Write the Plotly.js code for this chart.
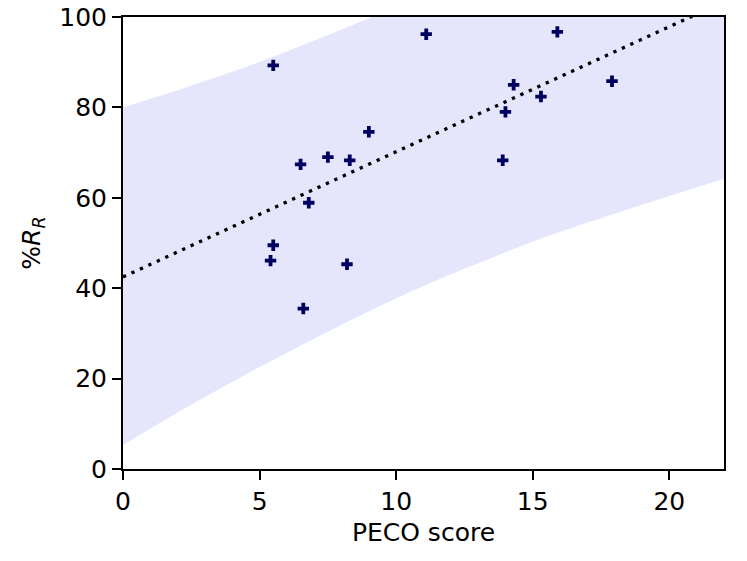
<!DOCTYPE html>
<html>
<head>
<meta charset="utf-8">
<script src="https://cdn.plot.ly/plotly-3.0.1.min.js"></script>
<style>
  html, body { margin: 0; padding: 0; background: #fff; }
  #chart { width: 747px; height: 561px; }
</style>
</head>
<body>
<div id="chart"></div>
<script>
// Observed points
const pecoScore = [5.5, 11.1, 15.9, 14.3, 17.9, 15.3, 14.0, 9.0, 7.5, 6.5, 8.3, 13.9, 6.8, 5.5, 5.4, 8.2, 6.6];
const pctRR     = [89.3, 96.2, 96.7, 85.0, 85.8, 82.4, 79.0, 74.6, 69.0, 67.4, 68.3, 68.3, 58.9, 49.5, 46.1, 45.3, 35.5];

// Fitted line (read at the two ends of the axis)
const fitX = [0, 22];
const fitY = [42.5, 103.4];

// Shaded interval
const bandX     = [0, 2.2, 4.4, 6.6, 8.8, 11, 13.2, 15.4, 17.6, 19.8, 22];
const bandLower = [5.3, 13.2, 20.6, 27.6, 34.3, 40.5, 46.0, 51.2, 55.7, 60.0, 64.2];
const bandUpper = [80.0, 84.2, 88.7, 93.8, 99.2, 105.4, 112.1, 119.2, 126.8, 134.6, 142.6];

const xTicks = [0, 5, 10, 15, 20];
const yTicks = [0, 20, 40, 60, 80, 100];

const font = { family: 'DejaVu Sans, sans-serif', size: 25, color: '#000' };

const traces = [
    {
        x: bandX, y: bandLower,
        type: 'scatter', mode: 'lines',
        line: { width: 0, shape: 'spline', smoothing: 0.8 },
        hoverinfo: 'skip', showlegend: false
    },
    {
        x: bandX, y: bandUpper,
        type: 'scatter', mode: 'lines',
        line: { width: 0, shape: 'spline', smoothing: 0.8 },
        fill: 'tonexty', fillcolor: '#e5e5fc',
        hoverinfo: 'skip', showlegend: false
    },
    {
        x: fitX, y: fitY,
        type: 'scatter', mode: 'lines',
        line: { color: '#000', width: 3.3, dash: '3.3px,6px' },
        hoverinfo: 'skip', showlegend: false
    },
    {
        x: pecoScore, y: pctRR,
        type: 'scatter', mode: 'markers',
        marker: { symbol: 'cross', size: 9.5, color: '#000060', line: { width: 0 } },
        showlegend: false
    }
];

const axisCommon = {
    showgrid: false,
    zeroline: false,
    showline: true,
    mirror: true,
    linecolor: '#000',
    linewidth: 2,
    ticks: 'outside',
    ticklen: 9,
    tickwidth: 2,
    tickcolor: '#000',
    tickfont: font
};

const layout = {
    width: 747,
    height: 561,
    margin: { l: 123, r: 23, t: 17, b: 92 },
    paper_bgcolor: '#fff',
    plot_bgcolor: '#fff',
    font: font,
    xaxis: {
        ...axisCommon,
        range: [0, 22],
        tickvals: xTicks,
        title: { text: 'PECO score', font: font, standoff: 8 }
    },
    yaxis: {
        ...axisCommon,
        range: [0, 100],
        tickvals: yTicks,
        title: { text: '%<i>R</i><sub><i>R</i></sub>', font: font, standoff: 12 }
    }
};

Plotly.newPlot('chart', traces, layout, { displayModeBar: false, staticPlot: true });
</script>
</body>
</html>
